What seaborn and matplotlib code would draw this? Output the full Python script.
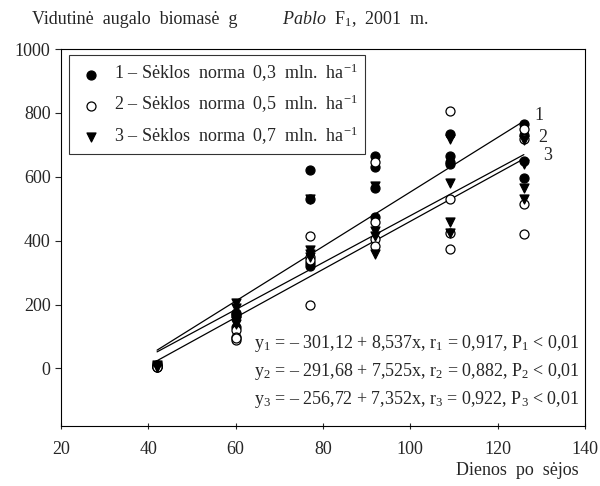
import numpy as np
import pandas as pd
import matplotlib
matplotlib.use("Agg")
import matplotlib.pyplot as plt
import seaborn as sns

# data
days = [42, 60, 77, 92, 109, 126]
norma1 = [[8, 10, 5, 12], [175, 165, 130, 170], [620, 530, 330, 320],
          [665, 630, 565, 475], [735, 665, 645, 640], [765, 730, 650, 595]]
norma2 = [[5, 8, 10, 6], [120, 100, 90, 95], [415, 350, 340, 200],
          [645, 460, 405, 385], [805, 530, 425, 375], [750, 720, 515, 420]]
norma3 = [[10, 6, 8, 4], [205, 190, 140, 150], [530, 370, 360, 350],
          [570, 430, 415, 360], [720, 580, 460, 425], [715, 640, 565, 530]]
intercepts = [-301.12, -291.68, -256.72]
slopes = [8.537, 7.525, 7.352]
labels = ["1 – Sėklos  norma  0,3  mln.  ha$^{-1}$",
          "2 – Sėklos  norma  0,5  mln.  ha$^{-1}$",
          "3 – Sėklos  norma  0,7  mln.  ha$^{-1}$"]
equations = ["y$_1$ = – 301,12 + 8,537x, r$_1$ = 0,917, P$_1$ < 0,01",
             "y$_2$ = – 291,68 + 7,525x, r$_2$ = 0,882, P$_2$ < 0,01",
             "y$_3$ = – 256,72 + 7,352x, r$_3$ = 0,922, P$_3$ < 0,01"]

sns.set_style("white")
plt.rcParams['font.family'] = ['Liberation Serif', 'DejaVu Serif']
plt.rcParams['mathtext.fontset'] = 'custom'
plt.rcParams['mathtext.rm'] = 'Liberation Serif'
plt.rcParams['mathtext.it'] = 'Liberation Serif:italic'

rows = []
for name, series in zip(["1", "2", "3"], [norma1, norma2, norma3]):
    for d, vals in zip(days, series):
        for v in vals:
            rows.append({"day": d, "biomass": v, "series": name})
df = pd.DataFrame(rows)

fig = plt.figure(figsize=(6, 4.86), dpi=100)
ax = fig.add_axes([0.1017, 0.1235, 0.8733, 0.7755])

styles = {"1": dict(marker="o", color="black", edgecolor="black"),
          "2": dict(marker="o", color="white", edgecolor="black"),
          "3": dict(marker="v", color="black", edgecolor="black")}
for i, name in enumerate(["1", "2", "3"]):
    sns.scatterplot(data=df[df["series"] == name], x="day", y="biomass",
                    s=42, linewidth=0.9, ax=ax, label=labels[i], zorder=3,
                    **styles[name])

# regression lines
xl = np.array([days[0], days[-1]])
for a, b in zip(intercepts, slopes):
    sns.lineplot(x=xl, y=a + b * xl, color="black", linewidth=0.9, ax=ax,
                 zorder=2)

ax.text(128.3, 793, "1", fontsize=13, va="center")
ax.text(129.3, 724, "2", fontsize=13, va="center")
ax.text(130.3, 668, "3", fontsize=13, va="center")

for i, eq in enumerate(equations):
    ax.text(138.8, 78 - i * 87, eq, fontsize=13, ha="right", va="center")

ax.set_xlim(20, 140)
ax.set_ylim(-180, 1000)
ax.set_xticks([20, 40, 60, 80, 100, 120, 140])
ax.set_yticks([0, 200, 400, 600, 800, 1000])
ax.tick_params(axis="both", labelsize=13, length=4, width=0.8,
               direction="out", left=True, bottom=True)
ax.tick_params(axis="x", direction="inout", length=5, pad=8)
for sp in ax.spines.values():
    sp.set_color("black")
    sp.set_linewidth(0.8)
ax.set_xlabel("")
ax.set_ylabel("")

leg = ax.legend(loc="upper left", bbox_to_anchor=(0.015, 0.985), fontsize=13,
                frameon=True, fancybox=False, edgecolor="black",
                handletextpad=0.4, handlelength=1.7, borderpad=0.4,
                labelspacing=0.5, borderaxespad=0.0)
leg.get_frame().set_linewidth(0.8)

fig.text(32 / 600, 1 - 19 / 486, "Vidutinė  augalo  biomasė  g", fontsize=13,
         va="center", ha="left")
fig.text(282 / 600, 1 - 19 / 486, "$\\it{Pablo}$  F$_1$,  2001  m.",
         fontsize=13, va="center", ha="left")
fig.text(579 / 600, 1 - 470 / 486, "Dienos  po  sėjos", fontsize=13,
         va="center", ha="right")

fig.savefig("out.png", dpi=100)
